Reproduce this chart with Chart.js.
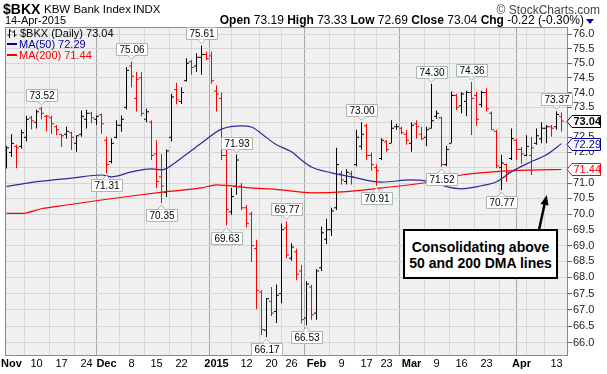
<!DOCTYPE html>
<html>
<head>
<meta charset="utf-8">
<script src="https://cdn.jsdelivr.net/npm/chart.js@4.4.1/dist/chart.umd.min.js"></script>
<style>
  body { margin: 0; background: #fff; }
  #wrap { position: relative; width: 607px; height: 374px; font-family: "Liberation Sans", Arial, sans-serif; }
  #wrap canvas { position: absolute; left: 0; top: 0; }
  .t { position: absolute; white-space: nowrap; line-height: 1; color: #000; }
  .dash { display: inline-block; width: 10px; height: 2px; vertical-align: middle; margin-right: 2px; position: relative; top: -1px; }
  #note { position: absolute; left: 403px; top: 229px; width: 155px; height: 50px; box-sizing: border-box;
          border: 2px solid #000; background: #fff; text-align: center; font-weight: bold; font-size: 14px;
          line-height: 16px; padding-top: 8px; }
  #tri { position: absolute; left: 586px; top: 19px; width: 0; height: 0;
         border-left: 4px solid transparent; border-right: 4px solid transparent; border-top: 5px solid #0000cc; }
</style>
</head>
<body>
<div id="wrap">
  <canvas id="chart" width="607" height="374"></canvas>
  <div class="t" style="left:3px;top:2px;font-size:14px;font-weight:bold">$BKX</div>
  <div class="t" style="left:44px;top:4px;font-size:11.5px">KBW Bank Index</div>
  <div class="t" style="left:133px;top:4px;font-size:11.5px">INDX</div>
  <div class="t" style="right:7px;top:4px;font-size:12px;color:#444">&copy; StockCharts.com</div>
  <div class="t" style="left:5px;top:15px;font-size:11px">14-Apr-2015</div>
  <div class="t" id="ohlc" style="right:23px;top:14px;font-size:12px"></div>
  <div id="tri"></div>
  <div class="t" id="leg1" style="left:7px;top:28px;font-size:11px"></div>
  <div class="t" id="leg2" style="left:7px;top:39px;font-size:11px;color:#000099"></div>
  <div class="t" id="leg3" style="left:7px;top:50px;font-size:11px;color:#ff0000"></div>
  <div id="note">Consolidating above<br>50 and 200 DMA lines</div>
</div>
<script>
// daily bars, 31-Oct-2014 .. 14-Apr-2015 (trading days)
const opens = [
  71.55, 72.00, 72.20, 72.20, 72.50, 73.15, 73.00, 73.45, 73.20, 73.15,
  72.85, 72.60, 72.60, 72.65, 72.30, 72.60, 73.10, 73.30, 73.10, 73.25,
  72.40, 71.70, 72.50, 72.90, 73.50, 74.90, 73.80, 74.50, 73.10, 73.00,
  71.95, 71.20, 70.70, 72.50, 74.10, 73.70, 74.40, 75.05, 74.90, 75.20,
  75.30, 75.25, 74.05, 73.80, 71.90, 70.07, 70.90, 70.90, 70.20, 70.00,
  68.90, 67.55, 66.38, 67.26, 66.95, 67.50, 69.55, 68.60, 68.80, 68.20,
  66.75, 67.70, 66.90, 68.30, 69.20, 69.50, 70.20, 71.30, 71.05, 71.30,
  71.60, 72.20, 72.88, 71.90, 71.50, 71.80, 72.35, 72.30, 72.85, 72.80,
  72.60, 72.30, 72.95, 72.60, 72.50, 72.80, 73.20, 73.15, 71.60, 72.30,
  73.90, 73.55, 73.70, 74.00, 73.90, 73.60, 74.00, 73.30, 72.70, 71.50,
  71.60, 71.80, 72.40, 72.10, 71.90, 71.90, 72.30, 72.45, 72.80, 72.85,
  72.85, 73.19
];
const highs = [
  72.22, 72.60, 72.25, 72.76, 73.22, 73.22, 73.42, 73.52, 73.25, 73.22,
  72.91, 72.62, 72.85, 72.68, 72.57, 73.39, 73.42, 73.35, 73.23, 73.29,
  72.52, 72.46, 73.07, 73.23, 74.86, 75.06, 74.70, 74.70, 73.45, 73.07,
  72.40, 71.95, 72.10, 73.96, 74.33, 74.18, 75.17, 75.11, 75.34, 75.61,
  75.40, 75.40, 74.25, 74.00, 72.20, 70.84, 71.93, 71.00, 70.29, 70.07,
  69.18, 67.60, 67.36, 67.70, 67.78, 69.70, 69.77, 69.07, 68.90, 68.39,
  67.88, 67.77, 68.26, 69.60, 69.85, 70.20, 72.15, 71.40, 71.45, 71.40,
  72.75, 73.00, 72.95, 72.00, 71.60, 72.47, 72.41, 73.07, 72.95, 72.85,
  72.74, 73.00, 73.07, 72.85, 72.85, 74.30, 73.39, 73.18, 72.22, 74.03,
  73.96, 74.02, 74.06, 74.36, 74.02, 74.06, 74.14, 73.36, 72.74, 71.92,
  71.63, 72.79, 72.46, 72.18, 72.57, 72.52, 72.79, 73.00, 72.91, 72.91,
  73.37, 73.33
];
const lows = [
  71.47, 71.85, 71.48, 72.13, 72.36, 72.77, 72.79, 73.10, 72.70, 72.61,
  72.57, 72.18, 72.46, 72.08, 72.02, 72.52, 72.79, 72.97, 72.91, 72.62,
  71.31, 71.64, 72.46, 72.68, 73.43, 74.18, 73.36, 73.20, 73.00, 71.75,
  70.84, 70.35, 70.55, 72.36, 73.60, 73.61, 74.37, 74.60, 74.70, 74.60,
  75.11, 74.30, 73.36, 71.75, 69.63, 69.98, 70.62, 70.13, 69.57, 68.48,
  67.02, 66.23, 66.17, 66.81, 66.60, 67.20, 68.60, 68.52, 67.91, 66.58,
  66.53, 66.70, 66.70, 68.20, 69.05, 69.30, 70.13, 70.95, 70.95, 70.95,
  71.55, 72.10, 71.75, 71.40, 70.91, 71.75, 72.02, 72.30, 72.75, 72.60,
  72.25, 72.02, 72.46, 72.41, 72.20, 72.79, 73.12, 71.52, 71.55, 72.30,
  73.41, 73.30, 73.20, 72.58, 72.88, 73.50, 73.36, 72.74, 71.48, 70.77,
  71.04, 71.75, 71.75, 71.63, 71.87, 71.26, 72.25, 72.30, 72.30, 72.52,
  72.75, 72.69
];
const closes = [
  72.15, 72.30, 72.15, 72.65, 73.10, 73.05, 73.35, 73.30, 73.20, 72.95,
  72.75, 72.55, 72.70, 72.50, 72.55, 73.20, 73.30, 73.15, 73.20, 72.95,
  71.60, 72.30, 72.90, 73.10, 74.75, 74.55, 74.45, 73.30, 73.35, 71.90,
  71.05, 70.90, 72.05, 73.85, 73.75, 74.00, 75.00, 74.85, 75.20, 75.30,
  75.15, 74.40, 73.95, 71.90, 70.15, 70.56, 71.75, 70.20, 69.70, 69.00,
  67.60, 66.40, 67.34, 66.90, 67.45, 69.50, 68.70, 68.95, 68.10, 66.70,
  67.80, 66.85, 68.20, 69.40, 69.50, 70.10, 71.60, 71.10, 71.35, 71.20,
  72.50, 72.60, 71.90, 71.60, 71.40, 72.40, 72.10, 72.80, 72.85, 72.65,
  72.40, 72.90, 72.85, 72.45, 72.75, 73.05, 73.30, 71.60, 72.10, 73.90,
  73.50, 73.95, 74.00, 73.80, 73.10, 74.00, 73.45, 72.75, 71.55, 71.65,
  71.35, 72.45, 72.10, 71.95, 72.20, 72.15, 72.55, 72.80, 72.85, 72.80,
  73.26, 73.04
];

// moving averages read at sample days (day index, 0 = 3-Nov-2014)
const ma50Idx = [-1, 6, 12, 18, 20, 24, 28, 30, 34, 38, 42, 46, 48, 50, 53, 56, 58, 60, 64, 68, 74, 80, 84, 87, 90, 94, 97, 100, 104, 107, 110];
const ma50 = [70.89, 71.06, 71.16, 71.26, 71.20, 71.36, 71.46, 71.43, 71.82, 72.31, 72.77, 72.88, 72.84, 72.62, 72.25, 72.02, 71.75, 71.52, 71.33, 71.20, 71.03, 71.10, 71.04, 70.88, 70.81, 70.91, 71.04, 71.37, 71.70, 71.92, 72.29];
const ma200Idx = [-1, 2, 6, 11, 18, 24, 31, 38, 41, 47, 54, 60, 67, 74, 84, 90, 97, 104, 110];
const ma200 = [70.02, 70.02, 70.17, 70.29, 70.45, 70.58, 70.72, 70.84, 70.94, 70.85, 70.78, 70.68, 70.72, 70.84, 71.04, 71.26, 71.37, 71.42, 71.44];

// x axis: gridline days and their labels
const gridIdx = [0, 5, 10, 15, 19, 24, 29, 34, 38, 41, 47, 52, 56, 61, 66, 71, 75, 80, 85, 90, 95, 100, 102, 104, 109];
const gridLbl = ['Nov', '10', '17', '24', 'Dec', '8', '15', '22', '', '2015', '12', '20', '26', 'Feb', '9', '17', '23', 'Mar', '9', '16', '23', '', 'Apr', '', '13'];
const monthIdx = [0, 19, 41, 61, 80, 102];
const yTicks = [66.0, 66.5, 67.0, 67.5, 68.0, 68.5, 69.0, 69.5, 70.0, 70.5, 71.0, 71.5, 72.0, 72.5, 73.0, 73.5, 74.0, 74.5, 75.0, 75.5, 76.0];

// swing high / low price labels
const markIdx = [6, 24, 38, 45, 55, 70, 84, 92, 109, 19, 30, 43, 51, 59, 73, 86, 98];
const markVal = [73.52, 75.06, 75.61, 71.93, 69.77, 73.00, 74.30, 74.36, 73.37, 71.31, 70.35, 69.63, 66.17, 66.53, 70.91, 71.52, 70.77];
const markSide = ['h', 'h', 'h', 'h', 'h', 'h', 'h', 'h', 'h', 'l', 'l', 'l', 'l', 'l', 'l', 'l', 'l'];

const RED = '#ff0000', BLUE = '#2b2b9b', FONT = '"Liberation Sans", Arial, sans-serif';
const dayIdx = closes.map((_, k) => k - 1);
const barColor = closes.map((c, k) => (k === 0 || c >= closes[k - 1]) ? '#000000' : RED);
const last = closes.length - 1;

// header + legend text from the data
const chg = closes[last] - closes[last - 1];
document.getElementById('ohlc').innerHTML =
  '<b>Open</b> ' + opens[last].toFixed(2) + ' <b>High</b> ' + highs[last].toFixed(2) +
  ' <b>Low</b> ' + lows[last].toFixed(2) + ' <b>Close</b> ' + closes[last].toFixed(2) +
  ' <b>Chg</b> ' + chg.toFixed(2) + ' (' + (chg / closes[last - 1] * 100).toFixed(2) + '%)';
document.getElementById('leg1').innerHTML =
  '<svg width="10" height="9" style="vertical-align:-1px;margin-right:3px"><path d="M2.5 0V9M0.5 6H2.5M2.5 2H4.5M7.5 1V8M5.5 3H7.5M7.5 6H9.5" stroke="#000" stroke-width="1" fill="none"/></svg>$BKX (Daily) ' + closes[last].toFixed(2);
document.getElementById('leg2').innerHTML = '<span class="dash" style="background:#000099"></span>MA(50) ' + ma50[ma50.length - 1].toFixed(2);
document.getElementById('leg3').innerHTML = '<span class="dash" style="background:#ff0000"></span>MA(200) ' + ma200[ma200.length - 1].toFixed(2);

Chart.defaults.font.family = FONT;

const overlay = {
  id: 'overlay',
  beforeDraw(chart) {
    const { ctx, chartArea: a } = chart;
    ctx.save();
    ctx.fillStyle = '#f0f0f0';
    ctx.fillRect(a.left, a.top, a.right - a.left, a.bottom - a.top);
    ctx.restore();
  },
  afterDraw(chart) {
    const { ctx, chartArea: a, scales: { x, y } } = chart;
    ctx.save();
    ctx.strokeStyle = '#8a8a8a';
    ctx.lineWidth = 1;
    ctx.strokeRect(a.left + 0.5, a.top + 0.5, a.right - a.left - 1, a.bottom - a.top - 1);

    // price labels with pointers
    ctx.font = '10px ' + FONT;
    ctx.textAlign = 'center';
    ctx.textBaseline = 'middle';
    markIdx.forEach((d, k) => {
      const px = x.getPixelForValue(d);
      const py = y.getPixelForValue(markVal[k]);
      const txt = markVal[k].toFixed(2);
      const w = Math.round(ctx.measureText(txt).width) + 6, h = 12;
      const left = Math.round(px - w / 2) + 0.5;
      const up = markSide[k] === 'h';
      const tip = up ? py - 2 : py + 2;
      const edge = Math.round(up ? tip - 4 : tip + 4) + 0.5;
      const top = up ? edge - h : edge;
      ctx.fillStyle = '#fff';
      ctx.strokeStyle = '#a9b8ae';
      ctx.beginPath();
      ctx.rect(left, top, w, h);
      ctx.fill();
      ctx.stroke();
      ctx.beginPath();
      ctx.moveTo(px - 4, edge);
      ctx.lineTo(px, tip);
      ctx.lineTo(px + 4, edge);
      ctx.closePath();
      ctx.fill();
      ctx.beginPath();
      ctx.moveTo(px - 4, edge);
      ctx.lineTo(px, tip);
      ctx.lineTo(px + 4, edge);
      ctx.stroke();
      ctx.fillStyle = '#000';
      ctx.fillText(txt, left + w / 2, top + h / 2 + 0.5);
    });

    // last-value tags on the price axis
    const tags = [
      [ma200[ma200.length - 1], RED, RED, 'normal'],
      [ma50[ma50.length - 1], '#000099', '#000099', 'normal'],
      [closes[last], '#000', '#000', 'bold']
    ];
    tags.forEach(([v, border, color, weight]) => {
      const py = Math.round(y.getPixelForValue(v)) + 0.5;
      const x0 = a.right - 1, x1 = x0 + 5, x2 = 600.5;
      ctx.beginPath();
      ctx.moveTo(x0, py);
      ctx.lineTo(x1, py - 6);
      ctx.lineTo(x2, py - 6);
      ctx.lineTo(x2, py + 6);
      ctx.lineTo(x1, py + 6);
      ctx.closePath();
      ctx.fillStyle = '#fff';
      ctx.fill();
      ctx.strokeStyle = border;
      ctx.lineWidth = 1;
      ctx.stroke();
      ctx.font = weight + ' 11px ' + FONT;
      ctx.fillStyle = color;
      ctx.textAlign = 'center';
      ctx.fillText(v.toFixed(2), (x1 + x2) / 2 + 1, py + 0.5);
    });

    // annotation arrow
    ctx.strokeStyle = '#000';
    ctx.fillStyle = '#000';
    ctx.lineWidth = 2.5;
    ctx.beginPath();
    ctx.moveTo(539, 230);
    ctx.lineTo(544.6, 204);
    ctx.stroke();
    ctx.beginPath();
    ctx.moveTo(546.7, 195);
    ctx.lineTo(548.5, 205.6);
    ctx.lineTo(540.6, 203.9);
    ctx.closePath();
    ctx.fill();
    ctx.restore();
  }
};

new Chart(document.getElementById('chart'), {
  type: 'bar',
  data: {
    datasets: [
      {
        type: 'line', data: ma50Idx.map((d, k) => ({ x: d, y: ma50[k] })),
        borderColor: BLUE, borderWidth: 1.2, pointRadius: 0, cubicInterpolationMode: 'monotone'
      },
      {
        type: 'line', data: ma200Idx.map((d, k) => ({ x: d, y: ma200[k] })),
        borderColor: RED, borderWidth: 1.2, pointRadius: 0, cubicInterpolationMode: 'monotone'
      },
      {
        type: 'scatter', data: dayIdx.map((d, k) => ({ x: d - 0.3, y: opens[k] })),
        pointStyle: 'line', pointRadius: 1, pointHoverRadius: 1, pointBorderWidth: 1,
        pointBorderColor: barColor, pointBackgroundColor: barColor
      },
      {
        type: 'scatter', data: dayIdx.map((d, k) => ({ x: d + 0.3, y: closes[k] })),
        pointStyle: 'line', pointRadius: 1, pointHoverRadius: 1, pointBorderWidth: 1,
        pointBorderColor: barColor, pointBackgroundColor: barColor
      },
      {
        type: 'bar', data: dayIdx.map((d, k) => ({ x: d, y: [lows[k], highs[k]] })),
        backgroundColor: barColor, borderWidth: 0, barThickness: 1, inflateAmount: 0, borderSkipped: false
      }
    ]
  },
  options: {
    responsive: false,
    animation: false,
    events: [],
    layout: { padding: { left: 5, top: 27, right: 0, bottom: 0 } },
    plugins: { legend: { display: false }, tooltip: { enabled: false } },
    scales: {
      x: {
        type: 'linear', min: -1.3, max: 111.3, offset: false,
        afterBuildTicks: (s) => { s.ticks = gridIdx.map((v) => ({ value: v })); },
        afterFit: (s) => { s.height = 18; },
        border: { display: false },
        grid: {
          drawTicks: false,
          color: (c) => (c.tick && monthIdx.includes(c.tick.value)) ? '#a8a8a8' : '#d6d6d6'
        },
        ticks: {
          autoSkip: false, maxRotation: 0, minRotation: 0, padding: 1, color: '#000',
          font: (c) => ({ size: 11, weight: (c.tick && monthIdx.includes(c.tick.value)) ? 'bold' : 'normal' }),
          callback: (v) => gridLbl[gridIdx.indexOf(v)]
        }
      },
      y: {
        type: 'logarithmic', position: 'right', min: 65.6, max: 76.25,
        afterBuildTicks: (s) => { s.ticks = yTicks.map((v) => ({ value: v })); },
        afterFit: (s) => { s.width = 39; },
        border: { display: false },
        grid: { color: '#d6d6d6', tickColor: '#666', tickLength: 4 },
        ticks: { padding: 1, color: '#222', font: { size: 11 }, callback: (v) => Number(v).toFixed(1) }
      }
    }
  },
  plugins: [overlay]
});
</script>
</body>
</html>
